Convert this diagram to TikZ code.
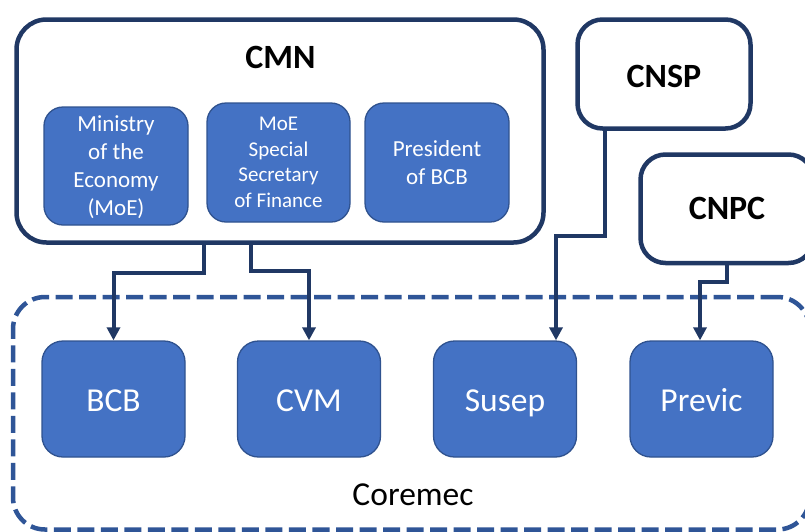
\documentclass[tikz,border=0pt]{standalone}
\usepackage{fontspec}
\setmainfont{Carlito}
\usetikzlibrary{arrows.meta}
\definecolor{navy}{RGB}{32,56,100}
\definecolor{fillblue}{RGB}{68,114,196}
\definecolor{edgeblue}{RGB}{47,82,143}
\definecolor{dashblue}{RGB}{47,85,151}
\begin{document}
\begin{tikzpicture}[x=1pt,y=-1pt,
  outerbox/.style={draw=navy, line width=4.5pt, fill=white, rounded corners=30pt, inner sep=0pt},
  headtext/.style={font=\bfseries\fontsize{34}{40}\selectfont, text=black},
  bluebox/.style={draw=edgeblue, line width=1.3pt, fill=fillblue, rounded corners=19pt,
     text=white, align=center, inner sep=0pt, minimum width=143pt, minimum height=118pt},
  agency/.style={bluebox, minimum height=116pt, rounded corners=21pt,
     font=\fontsize{33.5}{40}\selectfont, text height=25pt, text depth=0pt},
  frame/.style={draw=dashblue, line width=4.5pt, dash pattern=on 17pt off 6.5pt, rounded corners=32pt, inner sep=0pt},
  conn/.style={draw=navy, line width=4pt, -{Triangle[width=13pt,length=13pt]}}
]
\useasboundingbox (0,0) rectangle (805,531);
\clip (0,0) rectangle (805,531);

% Coremec frame
\node[frame, minimum width=796.5pt, minimum height=232.5pt] (coremec) at (411.25,413.25) {};
\node[anchor=base, font=\fontsize{33.5}{40}\selectfont] (coremeclabel) at (413,505) {Coremec};

% CMN
\node[outerbox, minimum width=527pt, minimum height=223pt] (cmn) at (280,131) {};
\node[headtext, anchor=base] (cmnlabel) at (280.5,68.3) {CMN};
\node[bluebox, minimum width=144pt, font=\fontsize{23}{28}\selectfont] (moe) at (116,166)
  {Ministry\\of the\\Economy\\\smash{(MoE)}};
\node[bluebox, minimum height=119pt, font=\fontsize{21}{25.5}\selectfont] (sec) at (278.5,162.5)
  {MoE\\Special\\Secretary\\of Finance};
\node[bluebox, minimum width=144pt, minimum height=119pt, font=\fontsize{23}{27.6}\selectfont] (pres) at (437,162.5)
  {President\\of BCB};

% CNSP and CNPC
\node[outerbox, rounded corners=25pt, minimum width=173pt, minimum height=109pt,
  headtext, text height=27pt, text depth=0pt] (cnsp) at (664,74) {CNSP};
\node[outerbox, rounded corners=25pt, minimum width=173pt, minimum height=108.5pt,
  headtext] (cnpc) at (727,208.75) {CNPC};

% agencies
\node[agency] (bcb) at (113.5,399) {BCB};
\node[agency] (cvm) at (309,399) {CVM};
\node[agency] (susep) at (505,399) {Susep};
\node[agency] (previc) at (701.5,399) {Previc};

% connectors
\draw[conn] ([xshift=-76pt]cmn.south) -- ++(0,28) -| (bcb.north);
\draw[conn] ([xshift=-29pt]cmn.south) -- ++(0,26) -| (cvm.north);
\draw[conn] ([xshift=-59pt]cnsp.south) -- ++(0,105) -| ([xshift=51pt]susep.north);
\draw[conn] (cnpc.south) -- ++(0,17) -| ([xshift=-1.5pt]previc.north);
\end{tikzpicture}
\end{document}
